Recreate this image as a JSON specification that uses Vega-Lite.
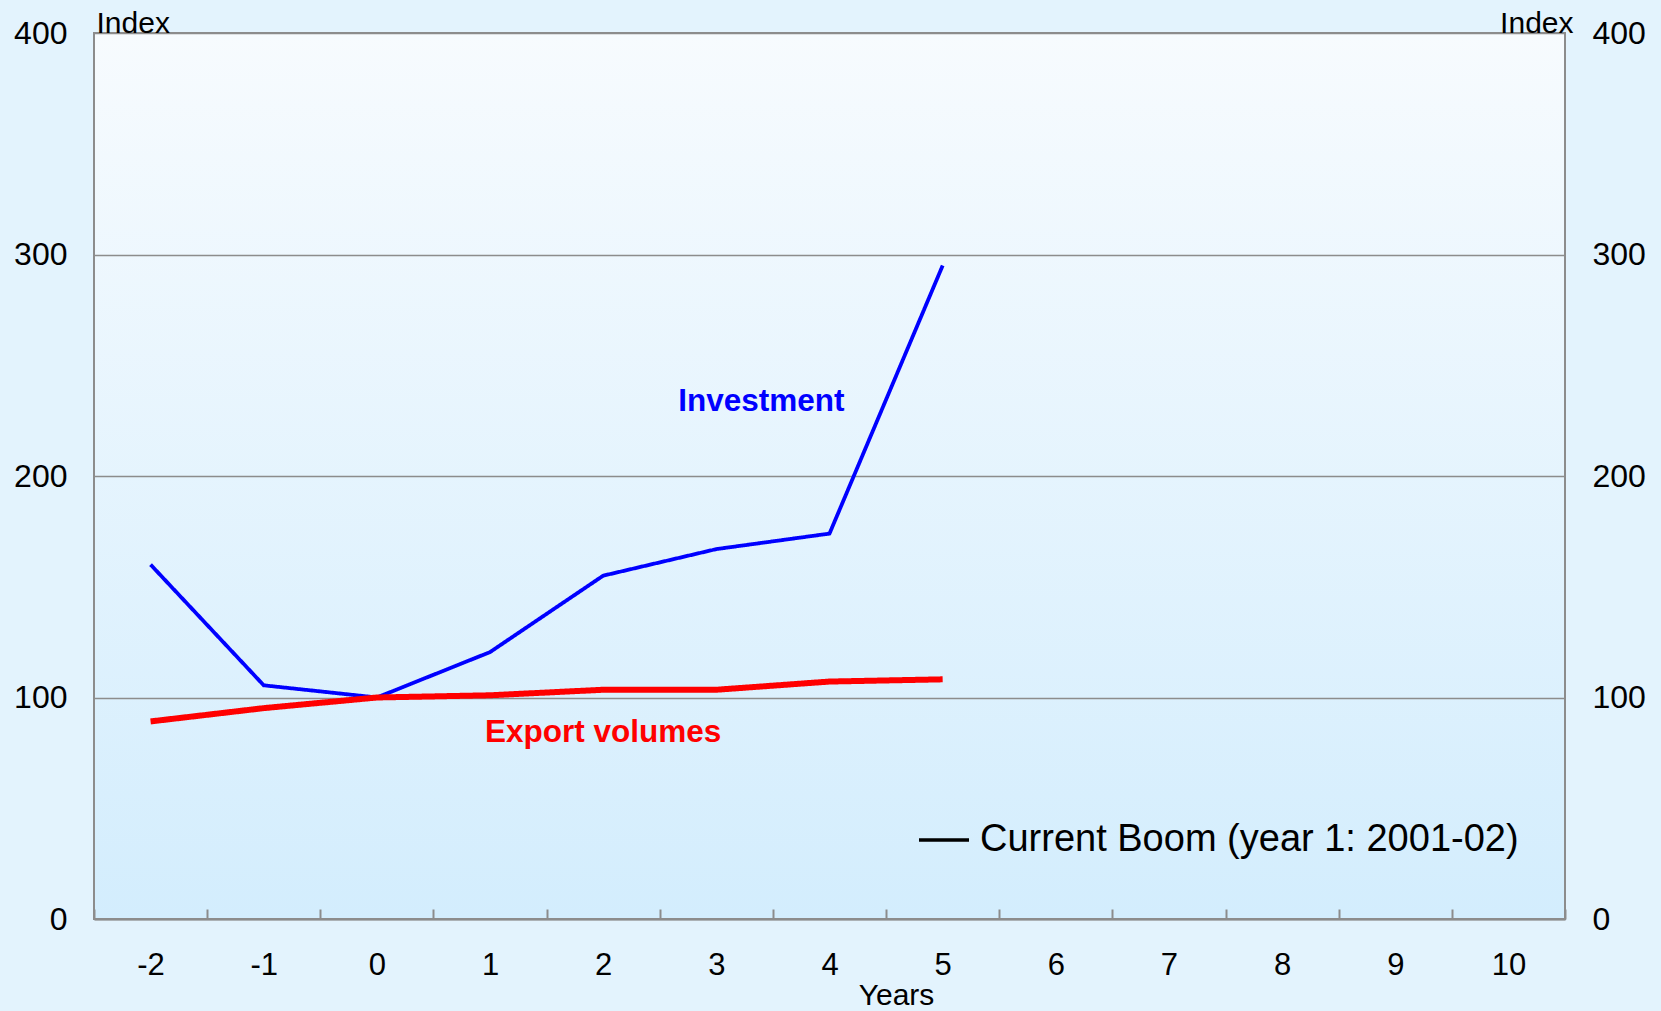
{
  "$schema": "https://vega.github.io/schema/vega-lite/v6.json",
  "width": 1471,
  "height": 886,
  "autosize": {"type": "none"},
  "padding": {"left": 94, "top": 33, "right": 96, "bottom": 92},
  "background": "#e3f3fd",
  "config": {
    "font": "Liberation Sans",
    "view": {
      "stroke": "#8c8c8c",
      "strokeWidth": 2,
      "fill": {"gradient": "linear", "x1": 0, "y1": 0, "x2": 0, "y2": 1,
        "stops": [{"offset": 0, "color": "#f7fbfe"}, {"offset": 1, "color": "#d3edfd"}]}
    },
    "axis": {"labelColor": "#000", "titleColor": "#000", "labelFont": "Liberation Sans", "titleFont": "Liberation Sans"}
  },
  "datasets": {
    "series": [
      {"year": -2, "series": "Investment", "value": 160, "boom": "Current Boom (year 1: 2001-02)"},
      {"year": -1, "series": "Investment", "value": 105.5, "boom": "Current Boom (year 1: 2001-02)"},
      {"year": 0, "series": "Investment", "value": 100, "boom": "Current Boom (year 1: 2001-02)"},
      {"year": 1, "series": "Investment", "value": 120.5, "boom": "Current Boom (year 1: 2001-02)"},
      {"year": 2, "series": "Investment", "value": 155, "boom": "Current Boom (year 1: 2001-02)"},
      {"year": 3, "series": "Investment", "value": 167, "boom": "Current Boom (year 1: 2001-02)"},
      {"year": 4, "series": "Investment", "value": 174, "boom": "Current Boom (year 1: 2001-02)"},
      {"year": 5, "series": "Investment", "value": 295, "boom": "Current Boom (year 1: 2001-02)"},
      {"year": -2, "series": "Export volumes", "value": 89.2, "boom": "Current Boom (year 1: 2001-02)"},
      {"year": -1, "series": "Export volumes", "value": 95.2, "boom": "Current Boom (year 1: 2001-02)"},
      {"year": 0, "series": "Export volumes", "value": 100, "boom": "Current Boom (year 1: 2001-02)"},
      {"year": 1, "series": "Export volumes", "value": 101, "boom": "Current Boom (year 1: 2001-02)"},
      {"year": 2, "series": "Export volumes", "value": 103.5, "boom": "Current Boom (year 1: 2001-02)"},
      {"year": 3, "series": "Export volumes", "value": 103.5, "boom": "Current Boom (year 1: 2001-02)"},
      {"year": 4, "series": "Export volumes", "value": 107.2, "boom": "Current Boom (year 1: 2001-02)"},
      {"year": 5, "series": "Export volumes", "value": 108.2, "boom": "Current Boom (year 1: 2001-02)"}
    ],
    "invLabel": [{"year": 3, "value": 233.5, "series": "Investment", "label": "Investment"}],
    "expLabel": [{"year": 2, "value": 84, "series": "Export volumes", "label": "Export volumes"}]
  },
  "resolve": {"scale": {"y": "independent"}},
  "layer": [
    {
      "data": {"name": "series"},
      "mark": {"type": "line", "strokeCap": "butt"},
      "encoding": {
        "x": {
          "field": "year", "type": "ordinal", "bandPosition": 0.5,
          "scale": {"type": "band", "domain": [-2, -1, 0, 1, 2, 3, 4, 5, 6, 7, 8, 9, 10], "paddingInner": 0, "paddingOuter": 0},
          "axis": {
            "title": "Years", "labelAngle": 0, "labelFontSize": 31, "labelPadding": 41,
            "tickBand": "extent", "tickSize": -10, "tickColor": "#8c8c8c", "tickWidth": 2,
            "domainColor": "#8c8c8c", "domainWidth": 2,
            "titleFontSize": 30, "titleFontWeight": "normal", "titleX": 802, "titleY": 85,
            "titleAlign": "center", "titleBaseline": "alphabetic"
          }
        },
        "y": {
          "field": "value", "type": "quantitative",
          "scale": {"domain": [0, 400], "nice": false},
          "axis": {
            "title": "Index", "titleAngle": 0, "titleAlign": "left", "titleBaseline": "alphabetic",
            "titleX": 2, "titleY": -1, "titleFontSize": 30, "titleFontWeight": "normal",
            "values": [0, 100, 200, 300, 400], "labelFontSize": 32, "ticks": false, "labelPadding": 27,
            "domain": false, "grid": true, "gridColor": "#8c8c8c", "gridWidth": 1.5
          }
        },
        "color": {
          "field": "series", "type": "nominal",
          "scale": {"domain": ["Investment", "Export volumes"], "range": ["#0000ff", "#ff0000"]},
          "legend": null
        },
        "strokeWidth": {
          "field": "series", "type": "nominal",
          "scale": {"domain": ["Investment", "Export volumes"], "range": [3.8, 6]},
          "legend": null
        },
        "strokeDash": {
          "field": "boom", "type": "nominal",
          "scale": {"range": [[1, 0]]},
          "legend": {
            "title": null, "orient": "none", "legendX": 823, "legendY": 780,
            "symbolType": "stroke", "symbolStrokeColor": "#000", "symbolStrokeWidth": 3.5,
            "symbolSize": 2500, "labelFontSize": 38, "labelColor": "#000", "labelOffset": 9,
            "padding": 0, "labelLimit": 1000
          }
        }
      }
    },
    {
      "data": {"name": "series"},
      "mark": {"type": "line", "opacity": 0},
      "encoding": {
        "x": {"field": "year", "type": "ordinal", "bandPosition": 0.5},
        "y": {
          "field": "value", "type": "quantitative",
          "scale": {"domain": [0, 400], "nice": false},
          "axis": {
            "orient": "right", "title": "Index", "titleAngle": 0, "titleAlign": "right", "titleBaseline": "alphabetic",
            "titleX": 8, "titleY": -1, "titleFontSize": 30, "titleFontWeight": "normal",
            "values": [0, 100, 200, 300, 400], "labelFontSize": 32, "ticks": false, "labelPadding": 27,
            "domain": false, "grid": false
          }
        },
        "detail": {"field": "series"}
      }
    },
    {
      "data": {"name": "invLabel"},
      "mark": {"type": "text", "fontWeight": "bold", "fontSize": 31.5, "dx": 45, "align": "center", "baseline": "middle"},
      "encoding": {
        "x": {"field": "year", "type": "ordinal", "bandPosition": 0.5},
        "y": {"field": "value", "type": "quantitative", "scale": {"domain": [0, 400], "nice": false}, "axis": null},
        "text": {"field": "label"},
        "color": {"field": "series", "type": "nominal", "legend": null}
      }
    },
    {
      "data": {"name": "expLabel"},
      "mark": {"type": "text", "fontWeight": "bold", "fontSize": 31.5, "align": "center", "baseline": "middle"},
      "encoding": {
        "x": {"field": "year", "type": "ordinal", "bandPosition": 0.5},
        "y": {"field": "value", "type": "quantitative", "scale": {"domain": [0, 400], "nice": false}, "axis": null},
        "text": {"field": "label"},
        "color": {"field": "series", "type": "nominal", "legend": null}
      }
    }
  ]
}
